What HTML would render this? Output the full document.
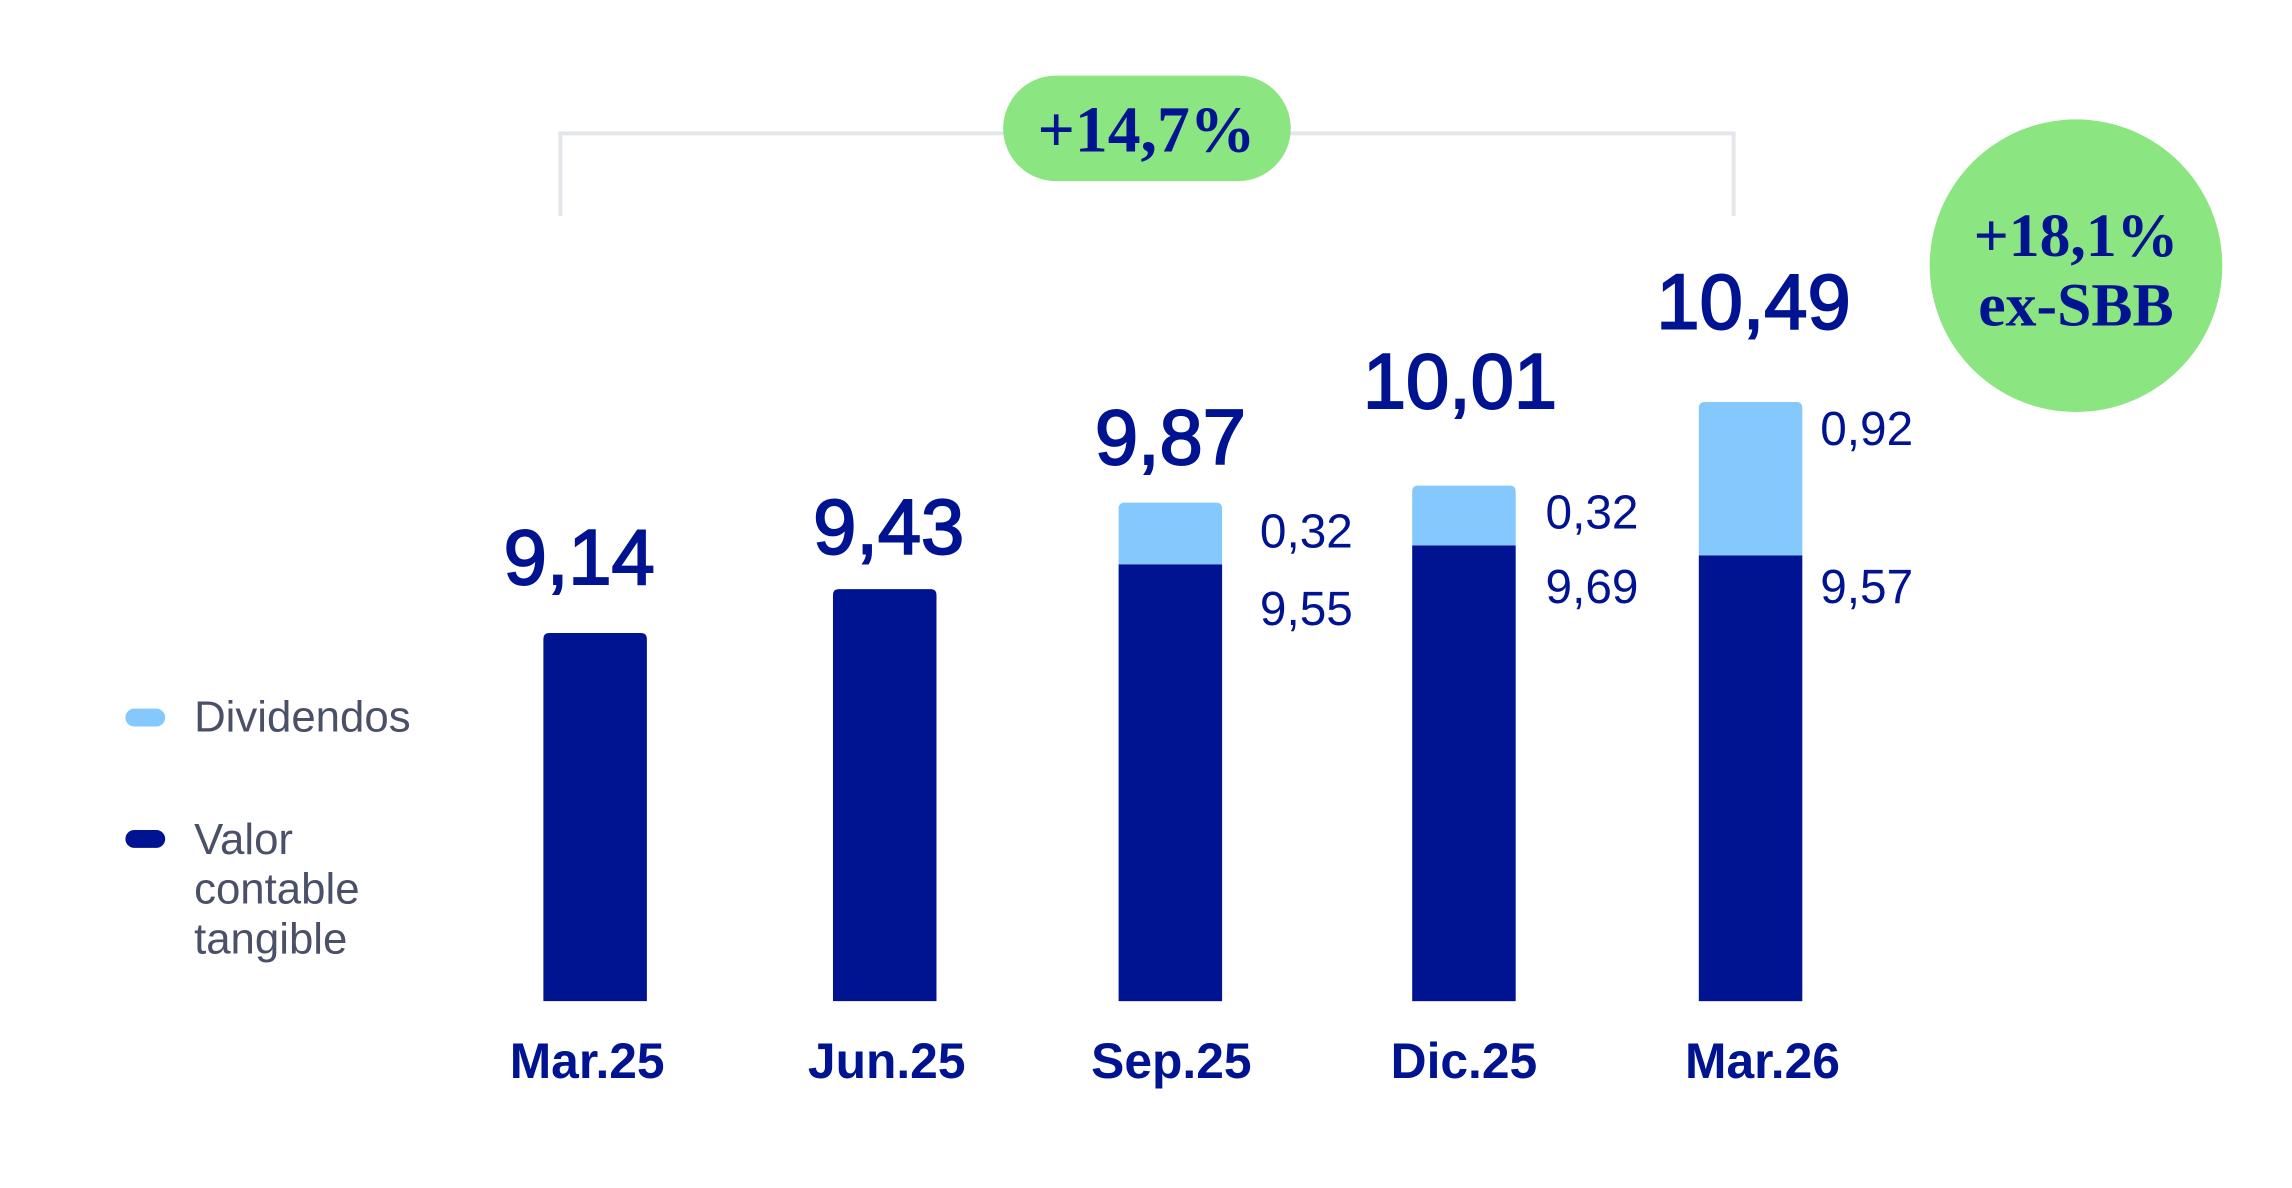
<!DOCTYPE html>
<html><head><meta charset="utf-8"><style>
html,body{margin:0;padding:0;background:#fff;}
svg{display:block;}
</style></head><body>
<svg width="2292" height="1188" viewBox="0 0 2292 1188" xmlns="http://www.w3.org/2000/svg">
<rect width="2292" height="1188" fill="#fff"/>
<g transform="scale(0.9952)">
<path d="M563 217 V134 H1742 V217" fill="none" stroke="#e3e6ea" stroke-width="4"/>
<rect x="1008" y="76" width="289" height="106" rx="53" fill="#8be580"/>
<text x="1152" y="152" text-anchor="middle" font-family="Liberation Serif, serif" font-weight="bold" font-size="66" fill="#001391">+14,7%</text>
<circle cx="2086" cy="267" r="147" fill="#8be580"/>
<text x="2086" y="257" text-anchor="middle" font-family="Liberation Serif, serif" font-weight="bold" font-size="62" fill="#001391">+18,1%</text>
<text x="2086" y="327" text-anchor="middle" font-family="Liberation Serif, serif" font-weight="bold" font-size="62" fill="#001391">ex-SBB</text>
<g fill="#001391">
<path d="M546 1006 V642 q0-6 6-6 h92 q6 0 6 6 V1006Z"/>
<path d="M837 1006 V598 q0-6 6-6 h92 q6 0 6 6 V1006Z"/>
<rect x="1124" y="567" width="104" height="439"/>
<rect x="1419" y="548" width="104" height="458"/>
<rect x="1707" y="558" width="104" height="448"/>
</g>
<g fill="#85c8fd">
<path d="M1124 567 V511 q0-6 6-6 h92 q6 0 6 6 V567Z"/>
<path d="M1419 548 V494 q0-6 6-6 h92 q6 0 6 6 V548Z"/>
<path d="M1707 558 V410 q0-6 6-6 h92 q6 0 6 6 V558Z"/>
</g>
<g font-family="Liberation Sans, sans-serif" font-size="78" fill="#001391" stroke="#001391" stroke-width="2" text-anchor="middle">
<text x="582" y="587">9,14</text>
<text x="893" y="556">9,43</text>
<text x="1176" y="466">9,87</text>
<text x="1467" y="410">10,01</text>
<text x="1762" y="330">10,49</text>
</g>
<g font-family="Liberation Sans, sans-serif" font-size="48" fill="#001391">
<text x="1266" y="550">0,32</text>
<text x="1266" y="628">9,55</text>
<text x="1553" y="531">0,32</text>
<text x="1553" y="606">9,69</text>
<text x="1829" y="447">0,92</text>
<text x="1829" y="606">9,57</text>
</g>
<g font-family="Liberation Sans, sans-serif" font-weight="bold" font-size="50" fill="#001391" text-anchor="middle">
<text x="590" y="1083">Mar.25</text>
<text x="891" y="1083">Jun.25</text>
<text x="1177" y="1083">Sep.25</text>
<text x="1471" y="1083">Dic.25</text>
<text x="1771" y="1083">Mar.26</text>
</g>
<rect x="126" y="712" width="40" height="18" rx="9" fill="#85c8fd"/>
<rect x="126" y="834" width="40" height="18" rx="9" fill="#001391"/>
<g font-family="Liberation Sans, sans-serif" font-size="44" fill="#4a5068">
<text x="195" y="735">Dividendos</text>
<text x="195" y="858">Valor</text>
<text x="195" y="908">contable</text>
<text x="195" y="958">tangible</text>
</g>
</g>
</svg>
</body></html>
